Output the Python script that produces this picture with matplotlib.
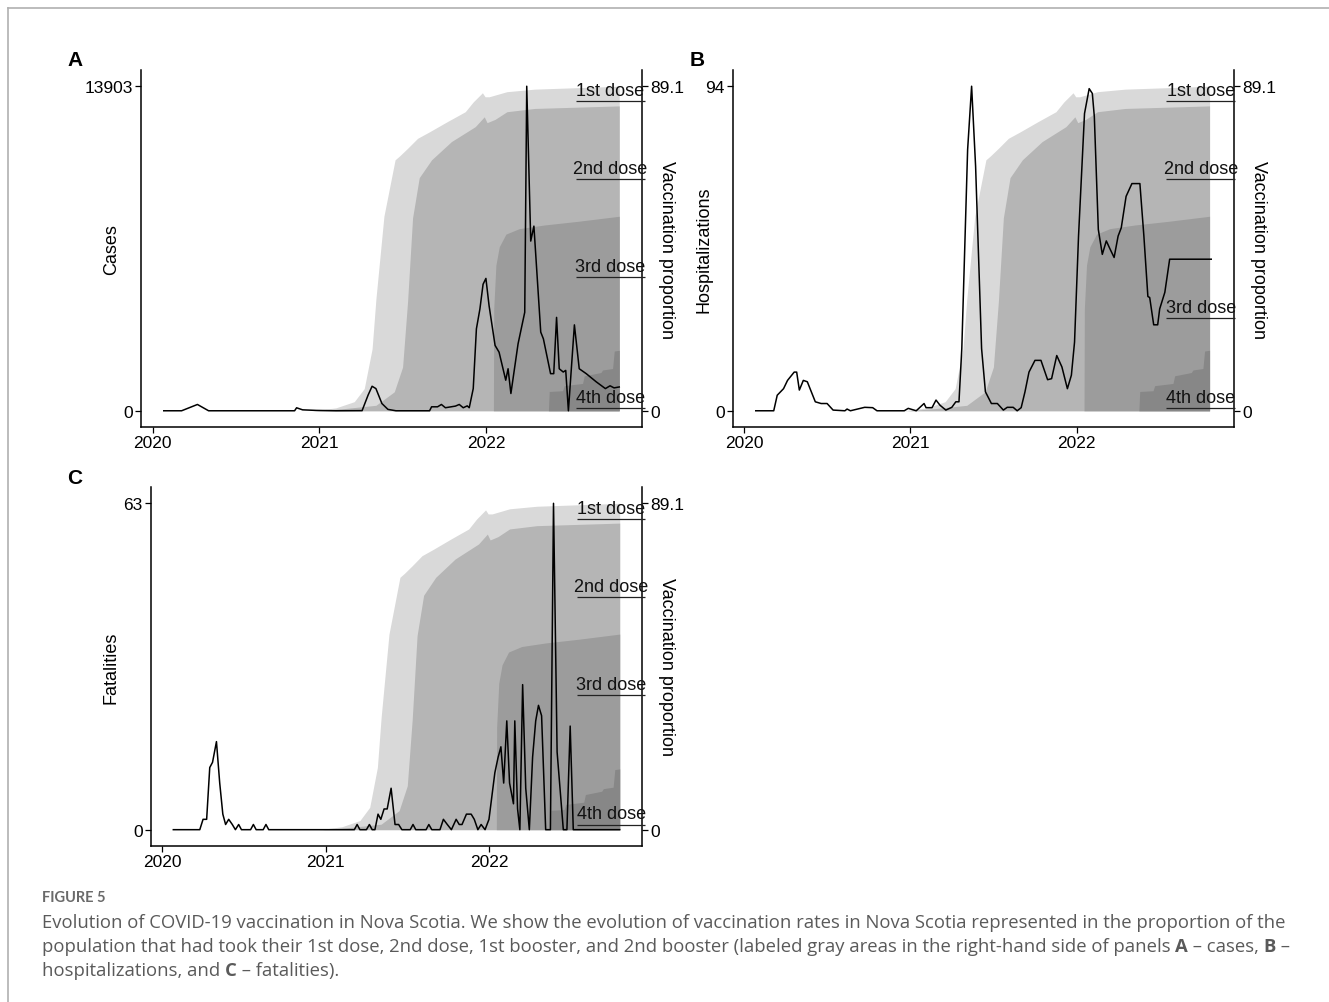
import matplotlib
matplotlib.use("Agg")
import matplotlib.pyplot as plt
from matplotlib.lines import Line2D

# ---------------- data (x in decimal years) ----------------
VMAX = 89.1

dose1_x = [2020.96, 2021.10, 2021.21, 2021.27, 2021.317, 2021.34, 2021.388, 2021.455,
           2021.483, 2021.531, 2021.59, 2021.662, 2021.769, 2021.876, 2021.924, 2021.979,
           2021.995, 2022.019, 2022.126, 2022.293, 2022.80]
dose1 = [0, 0.8, 2.5, 6.1, 17, 30.7, 53.4, 68.9, 70, 72.1, 74.8, 76.6, 79.4, 82.1, 84.8,
         87.3, 86.2, 86.2, 87.6, 88.3, 89.1]

dose2_x = [2020.98, 2021.15, 2021.34, 2021.45, 2021.50, 2021.53, 2021.56, 2021.60, 2021.674,
           2021.793, 2021.936, 2021.99, 2022.007, 2022.055, 2022.126, 2022.293, 2022.80]
dose2 = [0, 0.6, 1.5, 5.2, 12, 30, 53, 64, 68.9, 73.9, 78, 80.7, 79.1, 80, 82.1, 83, 83.7]

dose3_x = [2022.045, 2022.047, 2022.06, 2022.08, 2022.12, 2022.2, 2022.35, 2022.55, 2022.80]
dose3 = [0, 28, 40, 45, 48.5, 50, 51, 52, 53.4]

dose4_x = [2022.375, 2022.38, 2022.46, 2022.47, 2022.58, 2022.59, 2022.69, 2022.70,
           2022.76, 2022.77, 2022.80]
dose4 = [0, 5.3, 5.5, 6.9, 7.5, 9.6, 10.5, 11.2, 11.6, 16.4, 16.6]

dose_labels = ["1st dose", "2nd dose", "3rd dose", "4th dose"]
dose_colors = ["#d9d9d9", "#b5b5b5", "#9c9c9c", "#878787"]

cases_x = [2020.067, 2020.174, 2020.269, 2020.336, 2020.852, 2020.864, 2020.9, 2020.983,
           2021.1, 2021.257, 2021.293, 2021.317, 2021.34, 2021.376, 2021.412, 2021.46,
           2021.662, 2021.674, 2021.71, 2021.733, 2021.757, 2021.817, 2021.84, 2021.864,
           2021.888, 2021.9, 2021.924, 2021.943, 2021.964, 2021.983, 2022.0, 2022.019,
           2022.055, 2022.079, 2022.119, 2022.133, 2022.15, 2022.193, 2022.233, 2022.245,
           2022.269, 2022.288, 2022.329, 2022.345, 2022.388, 2022.407, 2022.424, 2022.44,
           2022.464, 2022.479, 2022.495, 2022.531, 2022.56, 2022.602, 2022.662, 2022.717,
           2022.745, 2022.769, 2022.8]
cases = [0, 0, 270, 0, 0, 128, 40, 15, 0, 5, 670, 1050, 950, 310, 60, 0, 0, 170, 170, 270,
         130, 200, 270, 130, 210, 130, 950, 3510, 4360, 5420, 5670, 4500, 2800, 2510, 1310,
         1800, 740, 2870, 4220, 13903, 7270, 7910, 3370, 3080, 1590, 1590, 4000, 1800, 1660,
         1730, 0, 3680, 1800, 1590, 1240, 950, 1070, 980, 1020]

hosp_x = [2020.071, 2020.179, 2020.2, 2020.238, 2020.262, 2020.302, 2020.317, 2020.333,
          2020.357, 2020.381, 2020.429, 2020.464, 2020.5, 2020.536, 2020.607, 2020.62,
          2020.64, 2020.726, 2020.774, 2020.8, 2020.964, 2020.988, 2021.036, 2021.083,
          2021.095, 2021.131, 2021.155, 2021.179, 2021.214, 2021.25, 2021.274, 2021.293,
          2021.31, 2021.345, 2021.369, 2021.393, 2021.429, 2021.452, 2021.488, 2021.524,
          2021.56, 2021.583, 2021.619, 2021.643, 2021.667, 2021.69, 2021.714, 2021.75,
          2021.786, 2021.826, 2021.85, 2021.881, 2021.912, 2021.945, 2021.969, 2021.988,
          2022.012, 2022.048, 2022.076, 2022.095, 2022.107, 2022.131, 2022.155, 2022.179,
          2022.202, 2022.226, 2022.25, 2022.269, 2022.298, 2022.333, 2022.381, 2022.405,
          2022.429, 2022.44, 2022.464, 2022.488, 2022.5, 2022.531, 2022.56, 2022.81]
hosp = [0, 0, 4.5, 6.4, 8.8, 11.2, 11.2, 6, 8.8, 8.4, 2.6, 2.1, 2.1, 0.2, 0, 0.5, 0, 1, 0.9,
        0, 0, 0.7, 0, 2.1, 0.9, 0.9, 3.1, 1.6, 0.2, 1, 2.6, 2.6, 18, 75.6, 94, 70.8, 18, 5.5,
        2.1, 2.1, 0.2, 1, 1, 0, 0.9, 5.5, 11.2, 14.6, 14.6, 9, 9.3, 16, 12.7, 6.4, 10.3, 19.9,
        50.6, 86.1, 93.3, 91.9, 85.2, 52.5, 45.3, 49.2, 46.8, 44.4, 50.6, 53, 62.1, 65.8,
        65.8, 50.6, 33.1, 32.8, 24.9, 24.9, 29.5, 34.3, 43.9, 43.9]

deaths_x = [2020.068, 2020.23, 2020.25, 2020.272, 2020.291, 2020.308, 2020.332, 2020.352,
            2020.371, 2020.388, 2020.407, 2020.429, 2020.448, 2020.468, 2020.485, 2020.541,
            2020.558, 2020.575, 2020.618, 2020.635, 2020.652, 2021.176, 2021.193, 2021.21,
            2021.25, 2021.268, 2021.285, 2021.302, 2021.321, 2021.338, 2021.358, 2021.377,
            2021.401, 2021.425, 2021.447, 2021.467, 2021.518, 2021.535, 2021.552, 2021.615,
            2021.632, 2021.65, 2021.70, 2021.721, 2021.745, 2021.77, 2021.799, 2021.818,
            2021.835, 2021.862, 2021.891, 2021.91, 2021.932, 2021.952, 2021.976, 2022.0,
            2022.036, 2022.056, 2022.073, 2022.09, 2022.109, 2022.126, 2022.15, 2022.158,
            2022.175, 2022.189, 2022.206, 2022.225, 2022.247, 2022.267, 2022.286, 2022.303,
            2022.322, 2022.347, 2022.376, 2022.395, 2022.417, 2022.455, 2022.477, 2022.497,
            2022.516, 2022.80]
deaths = [0, 0, 2, 2, 12, 13, 17, 9, 3, 1, 2, 1, 0, 1, 0, 0, 1, 0, 0, 1, 0, 0, 1, 0, 0, 1,
          0, 0, 3, 2, 4, 4, 8, 1, 1, 0, 0, 1, 0, 0, 1, 0, 0, 2, 1, 0, 2, 1, 1, 3, 3, 2, 0, 1,
          0, 2, 11, 14, 16, 9, 21, 9, 5, 21, 4, 0, 28, 8, 0, 14, 21, 24, 22, 0, 0, 63, 15, 0,
          0, 20, 0, 0]

year_ticks = [2020, 2021, 2022]

caption_title = "FIGURE 5"
caption_line1 = ("Evolution of COVID-19 vaccination in Nova Scotia. We show the evolution of "
                 "vaccination rates in Nova Scotia represented in the proportion of the")
caption_line2 = [("population that had took their 1st dose, 2nd dose, 1st booster, and 2nd booster "
                  "(labeled gray areas in the right-hand side of panels ", "normal"),
                 ("A", "bold"), (" \u2013 cases, ", "normal"), ("B", "bold"), (" \u2013", "normal")]
caption_line3 = [("hospitalizations, and ", "normal"), ("C", "bold"),
                 (" \u2013 fatalities).", "normal")]

# ---------------- figure ----------------
W, H = 1329, 1003
fig = plt.figure(figsize=(W / 100, H / 100), dpi=100)
plt.rcParams["font.family"] = ["Liberation Sans", "DejaVu Sans"]

TICK_FS = 12.5
LAB_FS = 13
DOSE_FS = 13


def rect(l, t, r, b):
    return [l / W, 1 - b / H, (r - l) / W, (b - t) / H]


def panel(box, x, y, ylabel, label_vals, letter, letter_xy, ylab_x, vlab_x):
    ax = fig.add_axes(rect(*box))
    axl = ax.twinx()
    xs_all = list(x) + dose1_x
    x0, x1 = min(xs_all), max(xs_all)
    pad = 0.05 * (x1 - x0)
    ax.set_xlim(x0 - pad, x1 + pad)

    # vaccination areas (right-hand scale)
    for dx, dv, col in zip([dose1_x, dose2_x, dose3_x, dose4_x],
                           [dose1, dose2, dose3, dose4], dose_colors):
        ax.fill_between(dx, 0, dv, color=col, lw=0, zorder=1)
    ax.set_ylim(-0.05 * VMAX, 1.05 * VMAX)
    ax.yaxis.tick_right()
    ax.set_yticks([0, VMAX])
    ax.set_yticklabels(["0", "89.1"])
    ax.yaxis.set_label_position("right")
    ax.set_ylabel("Vaccination proportion", rotation=270, fontsize=LAB_FS, va="center")
    ax.yaxis.set_label_coords(vlab_x, 0.5)
    ax.set_xticks(year_ticks)
    ax.set_xticklabels([str(t) for t in year_ticks])
    ax.spines["top"].set_visible(False)
    for s in ["left", "right", "bottom"]:
        ax.spines[s].set_linewidth(1.1)
        ax.spines[s].set_color("black")
    ax.tick_params(axis="both", labelsize=TICK_FS, length=4, width=0.9, pad=2,
                   colors="black", direction="out")
    ax.tick_params(axis="y", left=False, labelleft=False, right=True, labelright=True)

    # dose labels with underline
    xl, xr = 2022.54, 2022.955
    for lab, v in zip(dose_labels, label_vals):
        ax.text((xl + xr) / 2, v + 0.6, lab, ha="center", va="bottom", fontsize=DOSE_FS,
                color="#111111", zorder=5)
        ax.plot([xl, xr], [v, v], color="#222222", lw=0.9, clip_on=False, zorder=5,
                solid_capstyle="butt")

    # epidemic series (left-hand scale)
    for s in axl.spines.values():
        s.set_visible(False)
    m = max(y)
    axl.set_ylim(-0.05 * m, 1.05 * m)
    axl.yaxis.tick_left()
    axl.yaxis.set_label_position("left")
    axl.set_yticks([0, m])
    axl.set_yticklabels(["0", f"{m:g}"])
    axl.tick_params(axis="y", labelsize=TICK_FS, length=4, width=0.9, pad=2, colors="black",
                    left=True, right=False, labelleft=True, labelright=False)
    axl.plot(x, y, color="black", lw=1.1, zorder=3)
    axl.set_ylabel(ylabel, fontsize=LAB_FS, va="center")
    axl.yaxis.set_label_coords(ylab_x, 0.5)
    fig.text(letter_xy[0] / W, 1 - letter_xy[1] / H, letter, fontsize=15, fontweight="bold",
             ha="center", va="center")
    return ax, axl


panel((141, 71, 642, 428), cases_x, cases, "Cases", [85.0, 63.6, 36.7, 0.8], "A", (75, 61),
      -0.058, 1.048)
panel((733, 71, 1234, 428), hosp_x, hosp, "Hospitalizations", [85.0, 63.6, 25.5, 0.8], "B",
      (697, 61), -0.058, 1.048)
panel((151, 488, 642, 847), deaths_x, deaths, "Fatalities", [84.7, 63.5, 36.8, 1.4], "C",
      (75, 479), -0.081, 1.05)

# ---------------- page decorations & caption ----------------
fig.add_artist(Line2D([8 / W, 1], [1 - 9 / H, 1 - 9 / H], color="#b0b0b0", lw=1.2))
fig.add_artist(Line2D([8 / W, 8 / W], [0, 1 - 9 / H], color="#b0b0b0", lw=1.2))

CAP_FONT = ["Open Sans", "DejaVu Sans"]
CAP_COL = "#5a5a5a"
CAP_FS = 13.3
fig.text(42 / W, 1 - 898 / H, caption_title, fontsize=10.5, color="#6a6a6a",
         fontweight="bold", family=["Lato", "DejaVu Sans"], va="center")
fig.text(42 / W, 1 - 923 / H, caption_line1, fontsize=CAP_FS, color=CAP_COL, family=CAP_FONT,
         va="center")

renderer = fig.canvas.get_renderer()


def rich_line(pieces, x_px, y_px):
    x = x_px
    for txt, wt in pieces:
        t = fig.text(x / W, 1 - y_px / H, txt, fontsize=CAP_FS, color=CAP_COL,
                     family=CAP_FONT, fontweight=wt, va="center")
        bb = t.get_window_extent(renderer=renderer)
        x += bb.width


rich_line(caption_line2, 42, 947)
rich_line(caption_line3, 42, 971)

fig.savefig("out.png", dpi=100)
